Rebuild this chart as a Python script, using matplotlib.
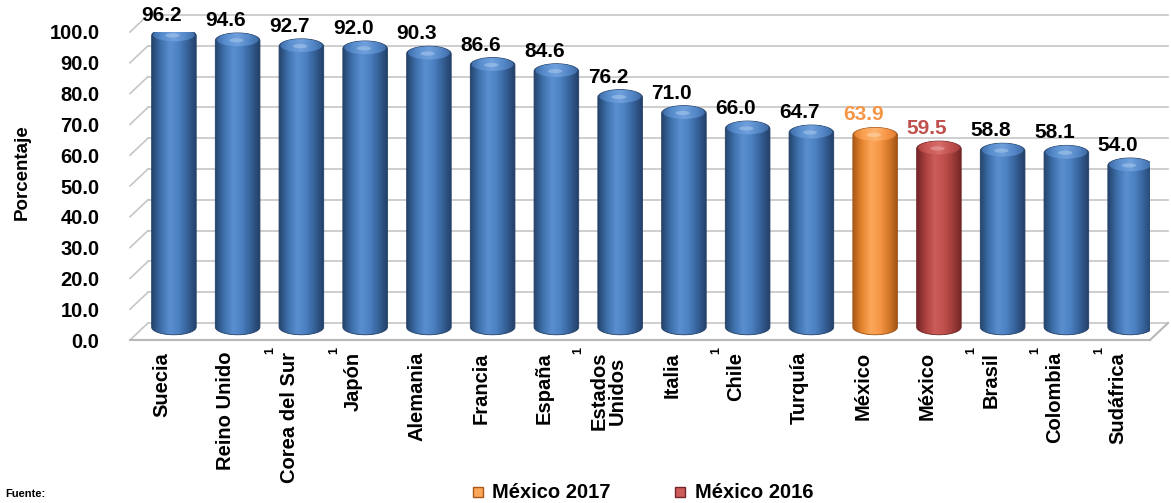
import matplotlib
matplotlib.use("Agg")
import matplotlib.pyplot as plt
import matplotlib.transforms as mtransforms
from matplotlib.patches import Ellipse, PathPatch, Rectangle
from matplotlib.path import Path
from matplotlib.colors import LinearSegmentedColormap
import numpy as np

plt.rcParams['font.family'] = ['Liberation Sans', 'DejaVu Sans']
plt.rcParams['font.weight'] = 'bold'

# datos
paises = ["Suecia", "Reino Unido", "Corea del Sur", "Japón", "Alemania", "Francia",
          "España", "Estados\nUnidos", "Italia", "Chile", "Turquía", "México",
          "México", "Brasil", "Colombia", "Sudáfrica"]
valores = [96.2, 94.6, 92.7, 92.0, 90.3, 86.6, 84.6, 76.2, 71.0, 66.0, 64.7,
           63.9, 59.5, 58.8, 58.1, 54.0]
nota = [0, 0, 1, 1, 0, 0, 0, 1, 0, 1, 0, 0, 0, 1, 1, 1]
serie = ["azul"] * 11 + ["2017", "2016"] + ["azul"] * 3
yticks = np.arange(0, 101, 10)
leyenda = ["México 2017", "México 2016"]

# colores (gradiente lateral, gradiente de la tapa, brillo, color de etiqueta)
estilos = {
    "azul": (["#24436b", "#3e70ac", "#5a8fd0", "#4b80c1", "#355f96", "#223f66"],
             ["#3c6ba6", "#5b90d0", "#6fa0dc", "#5588c8", "#3a67a0"],
             "#a9c8ee", "black"),
    "2017": (["#a9581a", "#e5852f", "#fba75a", "#f79646", "#d4782a", "#9c5215"],
             ["#e07f2c", "#fba355", "#fdb46f", "#f79646", "#d9792a"],
             "#fed6ad", "#f79646"),
    "2016": (["#74252a", "#ad4240", "#cd5c59", "#c0504d", "#9f3d3a", "#6f2424"],
             ["#a9413f", "#cc5b58", "#d66c69", "#c0504d", "#a3403d"],
             "#eaa8a6", "#c0504d"),
}

fig = plt.figure(figsize=(11.71, 5.03), dpi=100)
ax = fig.add_axes([130 / 1171, 163 / 503, 1020 / 1171, 308 / 503])
ax.set_xlim(-0.5, len(paises) - 0.5)
ax.set_ylim(0, 100)

dx, dy = 18, 17
fondo = mtransforms.offset_copy(ax.transData, fig=fig, x=dx, y=dy, units='dots')
medio = mtransforms.offset_copy(ax.transData, fig=fig, x=12, y=8, units='dots')

gris = "#c6c6c6"
x0, x1 = -0.5, len(paises) - 0.5
inv = fig.transFigure.inverted()
for t in yticks:
    ax.plot([x0, x1], [t, t], transform=fondo, color=gris, lw=1.2, clip_on=False, zorder=1)
    p = ax.transData.transform((x0, t))
    a = inv.transform(p)
    b = inv.transform(p + np.array([dx, dy]))
    ax.plot([a[0], b[0]], [a[1], b[1]], transform=fig.transFigure, color=gris,
            lw=1.2, clip_on=False, zorder=1)
# piso
ax.plot([x0, x1], [0, 0], color="#b8b8b8", lw=1.5, clip_on=False, zorder=1)
p = ax.transData.transform((x1, 0))
a = inv.transform(p)
b = inv.transform(p + np.array([dx, dy]))
ax.plot([a[0], b[0]], [a[1], b[1]], transform=fig.transFigure, color="#b8b8b8",
        lw=1.5, clip_on=False, zorder=1)

w = 0.70
eh = 2.5
base = 1.6
grad = np.linspace(0, 1, 256)[None, :]
th_bot = np.linspace(np.pi, 2 * np.pi, 40)
th_top = np.linspace(0, np.pi, 40)

for i, v in enumerate(valores):
    cols, capcols, brillo, tcol = estilos[serie[i]]
    cmap = LinearSegmentedColormap.from_list("c%d" % i, cols)
    cmap_t = LinearSegmentedColormap.from_list("t%d" % i, capcols)
    verts = [(i + w / 2 * np.cos(t), base + eh * np.sin(t)) for t in th_bot]
    verts += [(i + w / 2 * np.cos(t), v + eh * np.sin(t)) for t in th_top]
    verts.append(verts[0])
    path = Path(verts, [Path.MOVETO] + [Path.LINETO] * (len(verts) - 2) + [Path.CLOSEPOLY])
    patch = PathPatch(path, transform=medio, fc="none", ec=cols[-1], lw=0.6, zorder=4)
    ax.add_patch(patch)
    im = ax.imshow(grad, cmap=cmap, extent=(i - w / 2, i + w / 2, base - eh, v + eh),
                   aspect='auto', transform=medio, zorder=3, interpolation='bicubic')
    im.set_clip_path(patch)
    # tapa
    tapa = Ellipse((i, v + 0.3), w * 0.94, 2 * eh * 0.85, transform=medio, fc="none",
                   ec="none", zorder=5)
    ax.add_patch(tapa)
    imt = ax.imshow(grad, cmap=cmap_t, extent=(i - w / 2, i + w / 2, v - eh, v + eh),
                    aspect='auto', transform=medio, zorder=5, interpolation='bicubic')
    imt.set_clip_path(tapa)
    luz = Ellipse((i - 0.02, v + 0.1), w * 0.32, eh * 0.55, transform=medio,
                  fc=brillo, ec="none", alpha=0.55, zorder=6)
    ax.add_patch(luz)

    etq = mtransforms.offset_copy(ax.transData, fig=fig, x=0, y=8 + 7.7 + 3, units='dots')
    ax.text(i, v, f"{v:.1f}", transform=etq, ha='center', va='bottom',
            fontsize=15, color=tcol, zorder=7)

    cat = mtransforms.offset_copy(ax.transData, fig=fig, x=0, y=-12, units='dots')
    ax.text(i, 0, paises[i], transform=cat, rotation=90, ha='center', va='top',
            multialignment='center', fontsize=14.5, linespacing=0.95)
    if nota[i]:
        nl = paises[i].count("\n")
        sup = mtransforms.offset_copy(ax.transData, fig=fig, x=-19 - 11 * nl, y=-7,
                                      units='dots')
        ax.text(i, 0, "1", transform=sup, rotation=90, ha='center', va='top', fontsize=9)

ax.set_xlim(x0, x1)
ax.set_ylim(0, 100)
ax.set_xticks([])
ax.set_yticks(yticks, [f"{t:.1f}" for t in yticks])
ax.tick_params(axis='y', length=0, pad=22, labelsize=14.5)
for s in ax.spines.values():
    s.set_visible(False)
ax.patch.set_visible(False)

fig.text(22 / 1171, 1 - 172 / 503, "Porcentaje", rotation=90, ha='center',
         va='center', fontsize=13.5)

# leyenda
for xs, xt, clave, txt in [(473, 492, "2017", leyenda[0]), (675, 695, "2016", leyenda[1])]:
    fig.add_artist(Rectangle((xs / 1171, (503 - 497) / 503), 10 / 1171, 10 / 503,
                             transform=fig.transFigure, fc=estilos[clave][0][2],
                             ec=estilos[clave][0][0], lw=1))
    fig.text(xt / 1171, 1 - 492 / 503, txt, va='center', ha='left', fontsize=14.5)

fig.text(5 / 1171, 1 - 494 / 503, "Fuente:", va='center', ha='left', fontsize=8)

fig.savefig("out.png", dpi=100)
